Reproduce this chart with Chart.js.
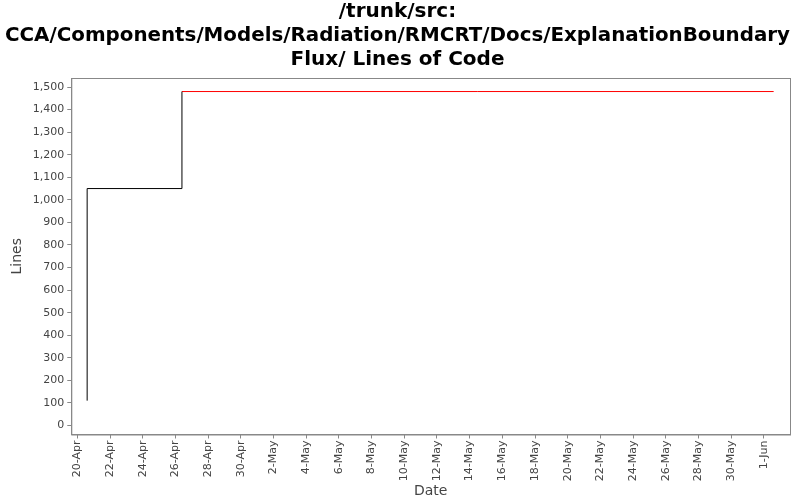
<!DOCTYPE html>
<html><head><meta charset="utf-8">
<script src="https://cdn.jsdelivr.net/npm/chart.js@4"></script>
<style>body{margin:0;background:#fff}#w{width:800px;height:500px}</style>
</head><body><div id="w"><canvas id="c"></canvas></div>
<script>
const titleLines = ["/trunk/src:", "CCA/Components/Models/Radiation/RMCRT/Docs/ExplanationBoundary", "Flux/ Lines of Code"];
// x values: days since 20-Apr
const blackX = [0.6, 0.6, 6.4, 6.4];
const blackY = [110, 1050, 1050, 1480];
const redX = [6.4, 42.6];
const redY = [1480, 1480];
const tickLabels = ["20-Apr","22-Apr","24-Apr","26-Apr","28-Apr","30-Apr","2-May","4-May","6-May","8-May","10-May","12-May","14-May","16-May","18-May","20-May","22-May","24-May","26-May","28-May","30-May","1-Jun"];
const pts = (xs, ys) => xs.map((x, i) => ({x, y: ys[i]}));
new Chart(document.getElementById('c'), {
  type: 'line',
  data: { datasets: [
    { data: pts(blackX, blackY), borderColor: '#000', borderWidth: 1, pointRadius: 0, tension: 0 },
    { data: pts(redX, redY), borderColor: '#ff0000', borderWidth: 1, pointRadius: 0, tension: 0 }
  ]},
  options: {
    responsive: true, maintainAspectRatio: false, animation: false,
    layout: { padding: { left: 5, right: 10, bottom: 0 } },
    plugins: {
      legend: { display: false }, tooltip: { enabled: false },
      title: { display: true, text: titleLines, color: '#000', font: { family: 'DejaVu Sans', size: 20, weight: 'bold' }, padding: { top: 0, bottom: 6 }, lineHeight: 1.12 }
    },
    scales: {
      x: { type: 'linear', min: -0.37, max: 43.6,
        afterBuildTicks: s => { s.ticks = tickLabels.map((l, i) => ({value: i * 2})); },
        ticks: { autoSkip: false, maxRotation: 90, minRotation: 90, padding: 2, color: '#444', font: { family: 'DejaVu Sans', size: 11 },
          callback: (v) => tickLabels[Math.round(v / 2)] },
        grid: { drawOnChartArea: false, drawTicks: true, tickLength: 4, color: '#888' },
        border: { color: '#888' },
        title: { display: true, text: 'Date', color: '#444', padding: 0, font: { family: 'DejaVu Sans', size: 14 } }
      },
      y: { min: -40, max: 1540,
        afterBuildTicks: s => { s.ticks = []; for (let v = 0; v <= 1500; v += 100) s.ticks.push({value: v}); },
        ticks: { color: '#444', font: { family: 'DejaVu Sans', size: 11 }, callback: v => v.toLocaleString('en-US') },
        grid: { drawOnChartArea: false, drawTicks: true, tickLength: 4, color: '#888' },
        border: { color: '#888' },
        title: { display: true, text: 'Lines', color: '#444', font: { family: 'DejaVu Sans', size: 14 } }
      }
    }
  },
  plugins: [{ id: 'frame', afterDraw(c) { const a = c.chartArea, x = c.ctx; x.save(); x.strokeStyle = '#888'; x.lineWidth = 1; x.strokeRect(a.left + 0.5, a.top + 0.5, a.right - a.left, a.bottom - a.top); x.restore(); } }]
});
</script></body></html>
